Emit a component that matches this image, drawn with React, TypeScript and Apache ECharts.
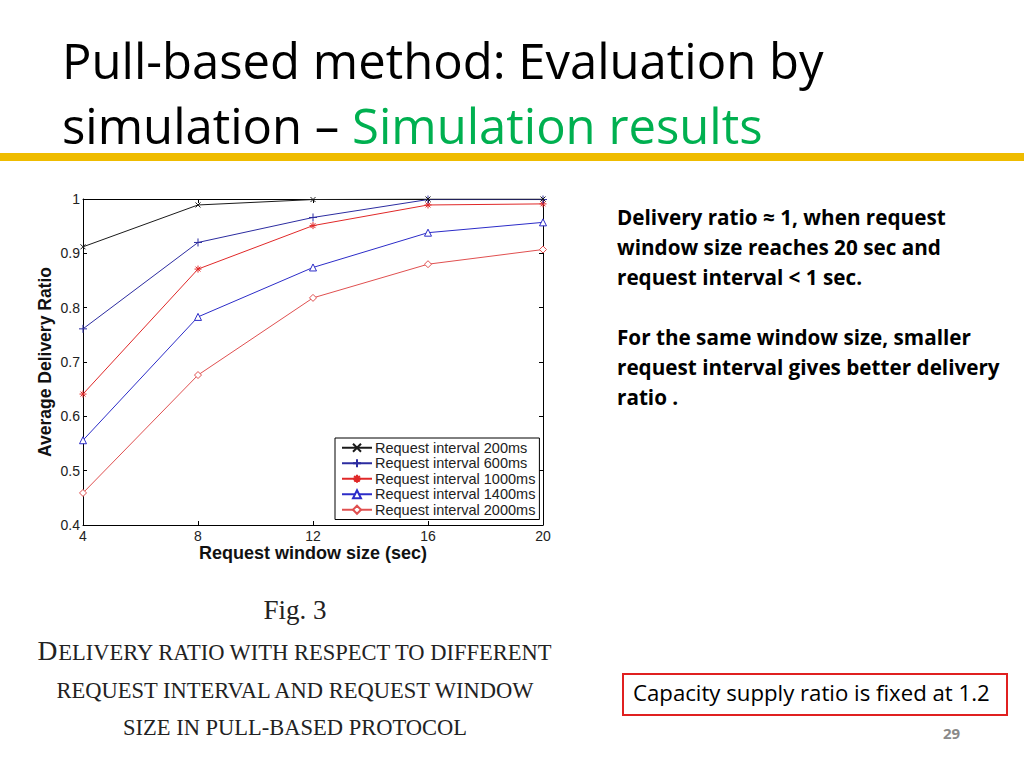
import React, { useEffect, useRef } from "react";
import * as echarts from "echarts";

const windowSizes = [4, 8, 12, 16, 20];
const seriesNames = [
  "Request interval 200ms",
  "Request interval 600ms",
  "Request interval 1000ms",
  "Request interval 1400ms",
  "Request interval 2000ms",
];
const ratio200 = [0.912, 0.989, 0.999, 1.0, 1.0];
const ratio600 = [0.761, 0.92, 0.966, 0.999, 0.999];
const ratio1000 = [0.641, 0.871, 0.951, 0.989, 0.991];
const ratio1400 = [0.556, 0.783, 0.874, 0.938, 0.957];
const ratio2000 = [0.459, 0.676, 0.818, 0.88, 0.907];
const seriesValues = [ratio200, ratio600, ratio1000, ratio1400, ratio2000];

const seriesColors = ["#1a1a1a", "#2c2ca0", "#e02828", "#2c2cc8", "#e05050"];
const seriesSymbols = [
  "path://M0 0L10 10M10 0L0 10",
  "path://M5 0L5 10M0 5L10 5",
  "path://M5 0L5 10M0 5L10 5M1.5 1.5L8.5 8.5M8.5 1.5L1.5 8.5",
  "triangle",
  "diamond",
];
const seriesSymbolSizes = [5, 8, 7, 7, 7];

const titleLine1 = "Pull-based method: Evaluation by";
const titleLine2a = "simulation – ";
const titleLine2b = "Simulation results";
const bulletLines = [
  "Delivery ratio ≈ 1, when request",
  "window size reaches 20 sec and",
  "request interval < 1 sec.",
  "",
  "For the same window size, smaller",
  "request interval gives better delivery",
  "ratio .",
];
const boxText = "Capacity supply ratio is fixed at 1.2";
const pageNumber = "29";
const figLabel = "Fig. 3";

export default function App() {
  const ref = useRef<HTMLDivElement>(null);

  useEffect(() => {
    if (!ref.current) return;
    const chart = echarts.init(ref.current, null, { renderer: "svg" });
    const sans = "Liberation Sans";
    const slideFont = "Open Sans";
    const serif = "Liberation Serif";

    const series = seriesValues.map((vals, i) => ({
      name: seriesNames[i],
      type: "line",
      data: windowSizes.map((x, j) => [x, vals[j]]),
      symbol: seriesSymbols[i],
      symbolSize: seriesSymbolSizes[i],
      showAllSymbol: true,
      lineStyle: { color: seriesColors[i], width: 1 },
      itemStyle: { color: "#ffffff", borderColor: seriesColors[i], borderWidth: 1 },
      emphasis: { disabled: true },
      z: 10 - i,
    }));

    const bulletGraphics = bulletLines
      .map((t, i) => ({ t, i }))
      .filter((o) => o.t !== "")
      .map((o) => ({
        type: "text",
        left: 617,
        top: 206 + o.i * 30,
        style: {
          text: o.t,
          fontFamily: slideFont,
          fontWeight: "bold",
          fontSize: 20.7,
          fill: "#000",
        },
      }));

    const capLines = [
      "{b|D}{s|ELIVERY RATIO WITH RESPECT TO DIFFERENT}",
      "{s|REQUEST INTERVAL AND REQUEST WINDOW}",
      "{s|SIZE IN PULL-BASED PROTOCOL}",
    ];
    const capY = [650, 690, 727];

    chart.setOption({
      animation: false,
      backgroundColor: "#ffffff",
      grid: { left: 83, top: 199, width: 460, height: 326, containLabel: false },
      legend: {
        orient: "vertical",
        left: 335,
        top: 438,
        itemWidth: 30,
        itemHeight: 10,
        itemGap: 0,
        padding: [2, 4, 2, 6],
        backgroundColor: "#ffffff",
        borderColor: "#000",
        borderWidth: 1,
        borderRadius: 0,
        textStyle: { fontFamily: sans, fontSize: 14.5, lineHeight: 15.5, color: "#222", padding: [0, 0, 0, -2] },
        data: seriesNames,
      },
      xAxis: [
        {
          type: "value",
          min: 4,
          max: 20,
          interval: 4,
          name: "Request window size (sec)",
          nameLocation: "middle",
          nameGap: 17,
          nameTextStyle: { fontFamily: sans, fontWeight: "bold", fontSize: 18, color: "#111" },
          axisLine: { show: true, lineStyle: { color: "#000", width: 1 } },
          axisTick: { show: true, inside: true, length: 4, lineStyle: { color: "#000" } },
          axisLabel: { fontFamily: sans, fontSize: 14, color: "#222", margin: 4 },
          splitLine: { show: false },
        },
        {
          type: "value",
          position: "top",
          min: 4,
          max: 20,
          interval: 4,
          axisLine: { show: true, onZero: false, lineStyle: { color: "#000", width: 1 } },
          axisTick: { show: true, inside: true, length: 4, lineStyle: { color: "#000" } },
          axisLabel: { show: false },
          splitLine: { show: false },
        },
      ],
      yAxis: [
        {
          type: "value",
          min: 0.4,
          max: 1,
          interval: 0.1,
          name: "Average Delivery Ratio",
          nameLocation: "middle",
          nameGap: 29,
          nameTextStyle: { fontFamily: sans, fontWeight: "bold", fontSize: 17.5, color: "#111" },
          axisLine: { show: true, lineStyle: { color: "#000", width: 1 } },
          axisTick: { show: true, inside: true, length: 4, lineStyle: { color: "#000" } },
          axisLabel: {
            fontFamily: sans,
            fontSize: 14,
            color: "#222",
            margin: 3,
            formatter: (v: number) => String(Math.round(v * 10) / 10),
          },
          splitLine: { show: false },
        },
        {
          type: "value",
          position: "right",
          min: 0.4,
          max: 1,
          interval: 0.1,
          axisLine: { show: true, onZero: false, lineStyle: { color: "#000", width: 1 } },
          axisTick: { show: true, inside: true, length: 4, lineStyle: { color: "#000" } },
          axisLabel: { show: false },
          splitLine: { show: false },
        },
      ],
      series,
      graphic: [
        {
          type: "text",
          left: 62,
          top: 35,
          style: { text: titleLine1, fontFamily: slideFont, fontSize: 49, fill: "#000" },
        },
        {
          type: "text",
          left: 62,
          top: 100,
          style: {
            text: "{k|" + titleLine2a + "}{g|" + titleLine2b + "}",
            rich: {
              k: { fontFamily: slideFont, fontSize: 49, fill: "#000", color: "#000" },
              g: { fontFamily: slideFont, fontSize: 49, fill: "#00b050", color: "#00b050" },
            },
          },
        },
        {
          type: "rect",
          shape: { x: 0, y: 153, width: 1024, height: 8 },
          style: { fill: "#efbc00" },
        },
        ...bulletGraphics,
        {
          type: "rect",
          shape: { x: 623, y: 674, width: 384, height: 41 },
          style: { fill: "#fff", stroke: "#e02020", lineWidth: 2 },
        },
        {
          type: "text",
          left: 633,
          top: 681,
          style: { text: boxText, fontFamily: slideFont, fontSize: 22.2, fill: "#000" },
        },
        {
          type: "text",
          left: 943,
          top: 725,
          style: { text: pageNumber, fontFamily: slideFont, fontWeight: "bold", fontSize: 15, fill: "#8a8a8a" },
        },
        {
          type: "text",
          x: 295,
          y: 610,
          style: {
            text: figLabel,
            fontFamily: serif,
            fontSize: 27,
            fill: "#222",
            align: "center",
            verticalAlign: "middle",
          },
        },
        ...capLines.map((t, i) => ({
          type: "text",
          x: 295,
          y: capY[i],
          style: {
            text: t,
            align: "center",
            verticalAlign: "middle",
            rich: {
              b: { fontFamily: serif, fontSize: 27.5, color: "#222", fill: "#222", verticalAlign: "bottom" },
              s: { fontFamily: serif, fontSize: 22.5, color: "#222", fill: "#222", verticalAlign: "bottom" },
            },
          },
        })),
      ],
    });
    return () => chart.dispose();
  }, []);

  return (
    <div
      ref={ref}
      style={{ position: "absolute", left: 0, top: 0, width: 1024, height: 768, background: "#fff" }}
    />
  );
}
